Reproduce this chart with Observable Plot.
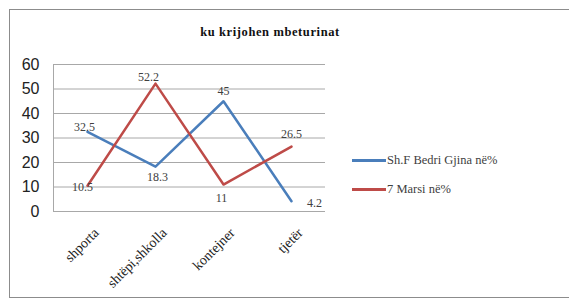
<!DOCTYPE html>
<html><head><meta charset="utf-8">
<script src="https://cdn.jsdelivr.net/npm/d3@7"></script>
<script src="https://cdn.jsdelivr.net/npm/@observablehq/plot@0.6"></script>
<style>
body{margin:0;background:#fff;}
#wrap{position:relative;width:569px;height:298px;overflow:hidden;background:#fff;}
#frame{position:absolute;left:9px;top:9px;width:580px;height:287px;border:1px solid #8c8c8c;}
#title{position:absolute;left:0;width:540px;top:25px;text-align:center;font-family:"Liberation Serif",serif;font-weight:bold;font-size:12.5px;letter-spacing:0.6px;color:#111;}
#chart{position:absolute;left:0;top:0;}
.leg{position:absolute;font-family:"Liberation Serif","DejaVu Serif",serif;font-size:12.5px;color:#404040;white-space:nowrap;}
.leg span{display:inline-block;width:34px;height:3px;vertical-align:middle;margin-right:1px;position:relative;top:-1px;}
</style></head>
<body>
<div id="wrap">
<div id="frame"></div>
<div id="chart"></div>
<div id="title">ku krijohen mbeturinat</div>
<div id="legend"></div>
</div>
<script>
const categories = ["shporta", "shtëpi,shkolla", "kontejner", "tjetër"];
const seriesNames = ["Sh.F Bedri Gjina në%", "7 Marsi në%"];
const bedriGjina = [32.5, 18.3, 45, 4.2];
const marsi7 = [10.5, 52.2, 11, 26.5];
const yTicks = [0, 10, 20, 30, 40, 50, 60];
const colors = ["#4a7ebb", "#be4b48"];

const rows = [];
categories.forEach((c, i) => {
  rows.push({cat: c, value: bedriGjina[i], series: seriesNames[0], i});
  rows.push({cat: c, value: marsi7[i], series: seriesNames[1], i});
});
const s0 = rows.filter(d => d.series === seriesNames[0]);
const s1 = rows.filter(d => d.series === seriesNames[1]);

// label placement (layout only)
const off0 = [[-3,-5],[2,10],[0,-10],[23,2]];
const off1 = [[-5,1],[-7,-6],[-2,14],[0,-12]];
const labelMarks = [];
[[s0, off0], [s1, off1]].forEach(([data, offs]) => {
  data.forEach((d, k) => {
    labelMarks.push(Plot.text([d], {x: "cat", y: "value", text: d => String(d.value),
      dx: offs[k][0], dy: offs[k][1], fill: "#404040", fontSize: 12,
      fontFamily: "Liberation Serif, serif"}));
  });
});

const chart = Plot.plot({
  width: 569, height: 298,
  marginLeft: 53, marginRight: 244, marginTop: 64, marginBottom: 87,
  style: {background: "transparent", overflow: "visible"},
  x: {type: "band", domain: categories, padding: 0, label: null},
  y: {domain: [0, 60], ticks: yTicks, label: null},
  color: {domain: seriesNames, range: colors},
  marks: [
    Plot.gridY(yTicks, {stroke: "#a8a8a8", strokeOpacity: 1, strokeWidth: 1}),
    Plot.axisY({ticks: yTicks, tickSize: 0, tickPadding: 14, fontSize: 16, fill: "#222",
      fontFamily: "Liberation Sans, Arial, sans-serif"}),
    Plot.axisX({tickSize: 0, tickRotate: -45, tickPadding: 6, dx: 9, dy: 13, fontSize: 14,
      fill: "#222", fontFamily: "Liberation Serif, serif"}),
    Plot.frame({anchor: "left", stroke: "#a8a8a8"}),
    Plot.line(s0, {x: "cat", y: "value", stroke: colors[0], strokeWidth: 2.5}),
    Plot.line(s1, {x: "cat", y: "value", stroke: colors[1], strokeWidth: 2.5}),
    ...labelMarks
  ]
});
document.getElementById("chart").appendChild(chart);

const leg = document.getElementById("legend");
seriesNames.forEach((n, i) => {
  const d = document.createElement("div");
  d.className = "leg";
  d.style.left = "352px";
  d.style.top = (153 + i * 29) + "px";
  d.innerHTML = `<span style="background:${colors[i]}"></span>${n}`;
  leg.appendChild(d);
});
</script>
</body></html>
